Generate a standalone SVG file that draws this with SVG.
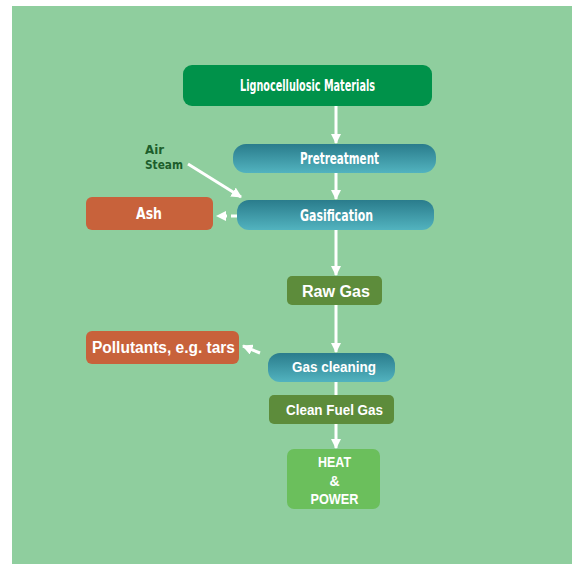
<svg xmlns="http://www.w3.org/2000/svg" width="572" height="564" viewBox="0 0 572 564">
<defs>
<linearGradient id="teal" x1="0" y1="0" x2="0" y2="1">
<stop offset="0" stop-color="#2a7c8c"/>
<stop offset="1" stop-color="#52b3bf"/>
</linearGradient>
<marker id="ah" viewBox="0 0 10 10" refX="9" refY="5" markerWidth="3.5" markerHeight="3.5" orient="auto">
<path d="M0,0 L10,5 L0,10 z" fill="#ffffff"/>
</marker>
<style>
.cond{font-family:"DejaVu Sans Condensed","DejaVu Sans",sans-serif;font-weight:bold;fill:#fff;font-size:15px;text-anchor:middle}
.bold{font-family:"Liberation Sans",Arial,sans-serif;font-weight:bold;fill:#fff;text-anchor:middle}
.lbl{font-family:"DejaVu Sans Condensed","DejaVu Sans",sans-serif;font-weight:bold;fill:#1d5e2c;font-size:13px}
.conn{stroke:#fff;stroke-width:3;fill:none}
</style>
</defs>
<rect x="0" y="0" width="572" height="564" fill="#ffffff"/>
<rect x="12" y="6" width="560" height="558" fill="#8fce9e"/>

<g id="connectors">
<line class="conn" x1="336" y1="106" x2="336" y2="143" marker-end="url(#ah)"/>
<line class="conn" x1="336" y1="173" x2="336" y2="199" marker-end="url(#ah)"/>
<line class="conn" x1="188" y1="164" x2="241" y2="197" marker-end="url(#ah)"/>
<line class="conn" x1="237" y1="216" x2="217" y2="216" stroke-dasharray="6 4" marker-end="url(#ah)"/>
<line class="conn" x1="336" y1="230" x2="336" y2="275" marker-end="url(#ah)"/>
<line class="conn" x1="336" y1="305" x2="336" y2="352" marker-end="url(#ah)"/>
<line class="conn" x1="260" y1="353" x2="243" y2="346" marker-end="url(#ah)"/>
<line class="conn" x1="336" y1="382" x2="336" y2="395"/>
<line class="conn" x1="336" y1="424" x2="336" y2="448" marker-end="url(#ah)"/>
</g>

<g id="lignocellulosic">
<rect x="183" y="65" width="249" height="41" rx="9" fill="#00924a"/>
<text class="cond" x="307.5" y="91" textLength="135" lengthAdjust="spacingAndGlyphs">Lignocellulosic Materials</text>
</g>

<g id="pretreatment">
<rect x="233" y="144" width="203" height="29" rx="13" fill="url(#teal)"/>
<text class="cond" x="339.5" y="164" textLength="79" lengthAdjust="spacingAndGlyphs">Pretreatment</text>
</g>

<g id="airsteam">
<text class="lbl" x="145" y="154" textLength="19" lengthAdjust="spacingAndGlyphs">Air</text>
<text class="lbl" x="145" y="169" textLength="38" lengthAdjust="spacingAndGlyphs">Steam</text>
</g>

<g id="gasification">
<rect x="237" y="200" width="197" height="30" rx="12" fill="url(#teal)"/>
<text class="cond" x="336.5" y="221" textLength="73" lengthAdjust="spacingAndGlyphs">Gasification</text>
</g>

<g id="ash">
<rect x="86" y="197" width="127" height="33" rx="6" fill="#c8623b"/>
<text class="cond" x="149" y="219" textLength="26" lengthAdjust="spacingAndGlyphs">Ash</text>
</g>

<g id="rawgas">
<rect x="287" y="276" width="95" height="29" rx="5" fill="#5d8c3b"/>
<text class="bold" x="336" y="297" font-size="16" textLength="68" lengthAdjust="spacingAndGlyphs">Raw Gas</text>
</g>

<g id="pollutants">
<rect x="86" y="331" width="153" height="33" rx="6" fill="#c8623b"/>
<text class="bold" x="163.5" y="353" font-size="16" textLength="143" lengthAdjust="spacingAndGlyphs">Pollutants, e.g. tars</text>
</g>

<g id="gascleaning">
<rect x="268" y="353" width="127" height="29" rx="12" fill="url(#teal)"/>
<text class="bold" x="334" y="372" font-size="14" textLength="84" lengthAdjust="spacingAndGlyphs">Gas cleaning</text>
</g>

<g id="cleanfuelgas">
<rect x="269" y="395" width="125" height="29" rx="5" fill="#5d8c3b"/>
<text class="bold" x="334.5" y="415" font-size="15" textLength="97" lengthAdjust="spacingAndGlyphs">Clean Fuel Gas</text>
</g>

<g id="heatpower">
<rect x="287" y="449" width="93" height="60" rx="7" fill="#6bbf5c"/>
<text class="bold" x="334.5" y="467" font-size="14" textLength="33" lengthAdjust="spacingAndGlyphs">HEAT</text>
<text class="bold" x="334.5" y="486" font-size="14">&amp;</text>
<text class="bold" x="334.5" y="504" font-size="14" textLength="48" lengthAdjust="spacingAndGlyphs">POWER</text>
</g>
</svg>
